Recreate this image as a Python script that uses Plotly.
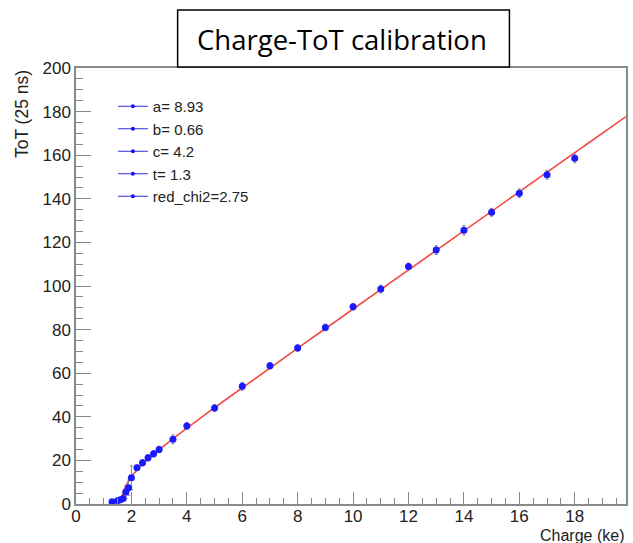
import numpy as np
import plotly.graph_objects as go

# Measured calibration points: injected charge (ke) vs. time over threshold (25 ns units)
charge = [1.3, 1.5, 1.6, 1.7, 1.8, 1.9, 2.0, 2.2, 2.4, 2.6, 2.8, 3.0, 3.5, 4.0,
          5, 6, 7, 8, 9, 10, 11, 12, 13, 14, 15, 16, 17, 18]
tot = [1.0, 1.5, 2.0, 2.5, 5.5, 7.5, 12.0, 16.6, 18.9, 21.2, 23.0, 25.0, 29.7, 35.8,
       44.0, 54.0, 63.4, 71.6, 81.0, 90.5, 98.6, 109.0, 116.5, 125.6, 133.8, 142.6, 151.0, 158.6]
tot_err = [0.5, 0.5, 0.5, 0.8, 3.0, 3.5, 5.5, 1.2, 1.5, 1.5, 1.5, 1.5, 2.0, 1.5,
           1.5, 1.8, 1.5, 1.5, 1.5, 1.5, 1.8, 1.5, 2.0, 2.2, 1.8, 2.0, 2.0, 2.0]

# Fit parameters of ToT(Q) = a*Q + b - c/(Q - t)
par_names = ["a", "b", "c", "t"]
par_values = [8.93, 0.66, 4.2, 1.3]
red_chi2 = 2.75

x_range = [0, 19.85]
y_range = [0, 200]
fit_start = 1.62

a, b, c, t = par_values
q = np.linspace(fit_start, x_range[1], 400)
fit_tot = a * q + b - c / (q - t)

FONT = "Liberation Sans, Arial, Helvetica, sans-serif"

fig = go.Figure()

fig.add_trace(go.Scatter(
    x=q, y=fit_tot, mode="lines",
    line=dict(color="#f24a46", width=1.6),
    showlegend=False, hoverinfo="skip",
))

fig.add_trace(go.Scatter(
    x=charge, y=tot, mode="markers",
    marker=dict(color="#1a1aff", size=7, symbol="circle"),
    error_y=dict(type="data", array=tot_err, color="rgba(120,110,150,0.85)",
                 thickness=1, width=1.5),
    showlegend=False,
))

# Legend entries listing the fit results
legend_labels = [f"{n}= {v}" for n, v in zip(par_names, par_values)]
legend_labels.append(f"red_chi2={red_chi2}")
for label in legend_labels:
    fig.add_trace(go.Scatter(
        x=[None], y=[None], mode="lines+markers", name=label,
        line=dict(color="#3030e0", width=1),
        marker=dict(color="#1010ff", size=4),
    ))

axis_common = dict(
    showline=True, linecolor="#8a8a8a", linewidth=1.5, mirror=True,
    ticks="inside", tickcolor="#8a8a8a", tickwidth=1,
    showgrid=False, zeroline=False,
    tickfont=dict(family=FONT, size=17, color="#222"),
)

fig.update_xaxes(
    range=x_range, dtick=2, tick0=0, ticklen=12, ticklabelstandoff=-4,
    minor=dict(dtick=0.5, ticks="inside", ticklen=6, tickcolor="#8a8a8a", showgrid=False),
    **axis_common,
)
fig.update_yaxes(
    range=y_range, dtick=20, tick0=0, ticklen=15,
    minor=dict(dtick=5, ticks="inside", ticklen=7, tickcolor="#8a8a8a", showgrid=False),
    **axis_common,
)

# Title box
fig.add_shape(
    type="rect", xref="paper", yref="paper",
    x0=(178 - 76) / 552, x1=(511 - 76) / 552,
    y0=(504 - 67) / 436, y1=(504 - 10) / 436,
    line=dict(color="black", width=1.5), fillcolor="white", layer="above",
)
fig.add_annotation(
    text="Charge-ToT calibration", xref="paper", yref="paper",
    x=(343 - 76) / 552, y=(504 - 39) / 436, xanchor="center", yanchor="middle",
    showarrow=False, font=dict(family="Open Sans, sans-serif", size=27.5, color="black"),
)

# Axis titles, aligned to the axis ends
fig.add_annotation(
    text="Charge (ke)", xref="paper", yref="paper",
    x=1.0, y=(504 - 535) / 436, xanchor="right", yanchor="middle",
    showarrow=False, font=dict(family=FONT, size=16, color="#222"),
)
fig.add_annotation(
    text="ToT (25 ns)", xref="paper", yref="paper",
    x=-0.098, y=1.0, xanchor="center", yanchor="top", textangle=-90,
    showarrow=False, font=dict(family=FONT, size=17.5, color="#222"),
)

fig.update_layout(
    width=633, height=543,
    margin=dict(l=76, r=5, t=68, b=39),
    paper_bgcolor="white", plot_bgcolor="white",
    showlegend=True,
    legend=dict(
        x=(113 - 76) / 552, y=(504 - 90) / 436, xanchor="left", yanchor="top",
        bgcolor="rgba(0,0,0,0)", borderwidth=0,
        font=dict(family=FONT, size=15, color="#222"),
        tracegroupgap=0,
    ),
)

fig.write_html("out.html")
